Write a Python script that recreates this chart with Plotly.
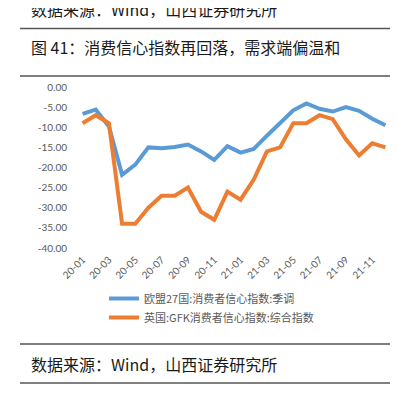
import plotly.graph_objects as go

months = ["20-01","20-02","20-03","20-04","20-05","20-06","20-07","20-08","20-09","20-10","20-11","20-12",
          "21-01","21-02","21-03","21-04","21-05","21-06","21-07","21-08","21-09","21-10","21-11","21-12"]
eu27 = [-6.7, -5.6, -9.8, -21.8, -19.3, -15.0, -15.2, -14.9, -14.3, -16.0, -18.1, -14.7,
        -16.3, -15.4, -12.1, -8.9, -5.8, -4.1, -5.4, -6.1, -5.0, -5.9, -7.9, -9.5]
uk_gfk = [-9, -7, -9, -34, -34, -30, -27, -27, -25, -31, -33, -26,
          -28, -23, -16, -15, -9, -9, -7, -8, -13, -17, -14, -15]
series_names = ["欧盟27国:消费者信心指数:季调", "英国:GFK消费者信心指数:综合指数"]
y_ticks = [0, -5, -10, -15, -20, -25, -30, -35, -40]
y_tick_labels = ["0.00", "-5.00", "-10.00", "-15.00", "-20.00", "-25.00", "-30.00", "-35.00", "-40.00"]
x_tick_labels = months[::2]
title_text = "图 41：消费信心指数再回落，需求端偏温和"
source_text = "数据来源：Wind，山西证券研究所"

W, H = 398, 397
L, R, T, B = 68, 384, 79, 240

def pxx(px):
    return (px - L) / (R - L)

def pxy(py):
    return (B - py) / (B - T)

fig = go.Figure()
fig.add_trace(go.Scatter(x=months, y=eu27, mode="lines", name=series_names[0],
                         line=dict(color="#5B9BD5", width=4)))
fig.add_trace(go.Scatter(x=months, y=uk_gfk, mode="lines", name=series_names[1],
                         line=dict(color="#ED7D31", width=4)))

tick_font = dict(family="Lato, Liberation Sans, sans-serif", size=10, color="#595959")
cjk = "Noto Sans CJK SC, sans-serif"

fig.update_layout(
    width=W, height=H,
    margin=dict(l=L, r=W - R, t=T, b=H - B, pad=0),
    paper_bgcolor="white", plot_bgcolor="white",
    showlegend=True,
    legend=dict(x=pxx(96), y=pxy(276), xanchor="left", yanchor="top",
                font=dict(family=cjk, size=11, color="#595959"),
                bgcolor="rgba(0,0,0,0)", itemwidth=30, tracegroupgap=0),
    xaxis=dict(type="category", range=[-0.5, len(months) - 0.5],
               tickvals=x_tick_labels, ticktext=x_tick_labels,
               tickangle=-45, showline=False, showgrid=False, zeroline=False,
               ticks="", tickfont=tick_font, ticklabelstandoff=3),
    xaxis2=dict(overlaying="x", side="top", anchor="y", range=[-0.5, len(months) - 0.5],
                tickvals=[i - 0.5 for i in range(0, len(months) + 1, 2)],
                showticklabels=False, ticks="inside", ticklen=5, tickcolor="#D9D9D9",
                showline=True, linecolor="#D9D9D9", linewidth=1,
                showgrid=False, zeroline=False),
    yaxis=dict(range=[-40, 0], tickvals=y_ticks, ticktext=y_tick_labels,
               showgrid=False, zeroline=False, showline=False, ticks="",
               tickfont=tick_font, ticklabelstandoff=8),
)

line_style = dict(color="#555555", width=1.5)
for py in [20.5, 68, 336, 375]:
    fig.add_shape(type="line", xref="paper", yref="paper",
                  x0=pxx(12), x1=pxx(385), y0=pxy(py), y1=pxy(py), line=line_style)

for text, py in [(source_text, 1), (title_text, 39), (source_text, 356)]:
    fig.add_annotation(text=text, xref="paper", yref="paper", x=pxx(21), y=pxy(py),
                       xanchor="left", yanchor="middle", showarrow=False,
                       font=dict(family=cjk, size=16, color="#1a1a1a"))

fig.write_html("out.html")
